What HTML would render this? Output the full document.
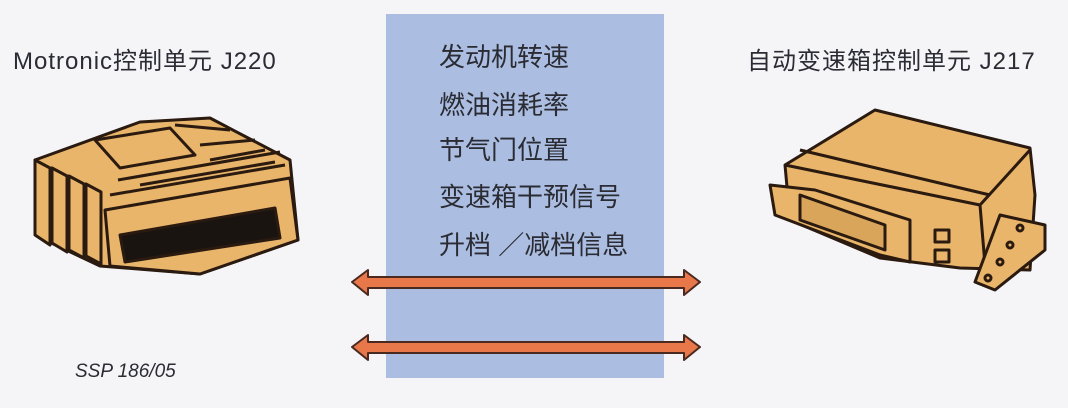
<!DOCTYPE html>
<html><head><meta charset="utf-8"><style>
html,body{margin:0;padding:0}
body{width:1068px;height:408px;background:#f5f4f7;position:relative;overflow:hidden;font-family:"Liberation Sans","Noto Sans CJK SC",sans-serif;color:#2a2b33}
.t{position:absolute;white-space:nowrap}
#panel{position:absolute;left:386px;top:14px;width:278px;height:364px;background:#abbde0}
.m{font-size:26px;left:439px}
</style></head><body>
<div id="panel"></div>
<div class="t" style="left:13px;top:41px;font-size:24px;letter-spacing:1px">Motronic控制单元 J220</div>
<div class="t" style="left:747px;top:41px;font-size:24px;letter-spacing:1px">自动变速箱控制单元 J217</div>
<div class="t m" style="top:37px">发动机转速</div>
<div class="t m" style="top:85px">燃油消耗率</div>
<div class="t m" style="top:130px">节气门位置</div>
<div class="t m" style="top:177px">变速箱干预信号</div>
<div class="t m" style="top:225px">升档 ／减档信息</div>
<div class="t" style="left:75px;top:361px;font-size:19px;font-style:italic">SSP 186/05</div>
<svg width="1068" height="408" style="position:absolute;left:0;top:0">
<g fill="#e8784a" stroke="#4a2a20" stroke-width="2" stroke-linejoin="round">
<path d="M352 282 L368 270 L368 277 L684 277 L684 270 L700 282 L684 295 L684 288 L368 288 L368 295 Z"/>
<path d="M352 347 L368 335 L368 342 L684 342 L684 335 L700 347 L684 360 L684 353 L368 353 L368 360 Z"/>
</g>
<g fill="#e9b56a" stroke="#2a1a10" stroke-width="3" stroke-linejoin="round">
<path d="M35 160 L140 122 L210 118 L290 160 L298 240 L200 274 L100 266 L45 240 Z"/>
<path d="M35 160 L35 235 L50 245 L50 168 Z"/>
<path d="M52 168 L52 243 L67 252 L67 176 Z"/>
<path d="M69 176 L69 250 L84 258 L84 184 Z"/>
<path d="M86 184 L86 256 L101 264 L101 192 Z"/>
<path d="M95 140 L170 128 L195 155 L120 168 Z"/>
<path d="M105 210 L290 178 L298 240 L200 274 L110 266 Z"/>
<path d="M120 235 L275 208 L280 238 L125 262 Z" fill="#1a1410"/>
<path d="M110 195 L285 165 M118 180 L280 152" fill="none"/>
<path d="M175 125 L230 130 M200 145 L255 140 M210 160 L265 150 M140 185 L275 162" fill="none"/>
</g>
<g fill="#e9b56a" stroke="#2a1a10" stroke-width="3" stroke-linejoin="round">
<path d="M785 165 L875 110 L1030 148 L1035 195 L1030 270 L960 268 L880 258 L790 220 Z"/>
<path d="M785 165 L980 205 L1030 150 M980 205 L985 265 M800 150 L990 195" fill="none"/>
<path d="M770 185 L815 190 L910 220 L910 262 L880 255 L775 215 Z"/>
<path d="M800 195 L885 225 L885 250 L800 220 Z" fill="#d9a55a"/>
<path d="M1000 215 L1045 225 L1045 250 L995 290 L975 282 Z"/>
<rect x="935" y="230" width="14" height="12"/><rect x="935" y="250" width="14" height="12"/>
<circle cx="1020" cy="228" r="3"/><circle cx="1010" cy="245" r="3"/><circle cx="1000" cy="262" r="3"/><circle cx="988" cy="278" r="3"/>
</g>
</svg>
</body></html>
